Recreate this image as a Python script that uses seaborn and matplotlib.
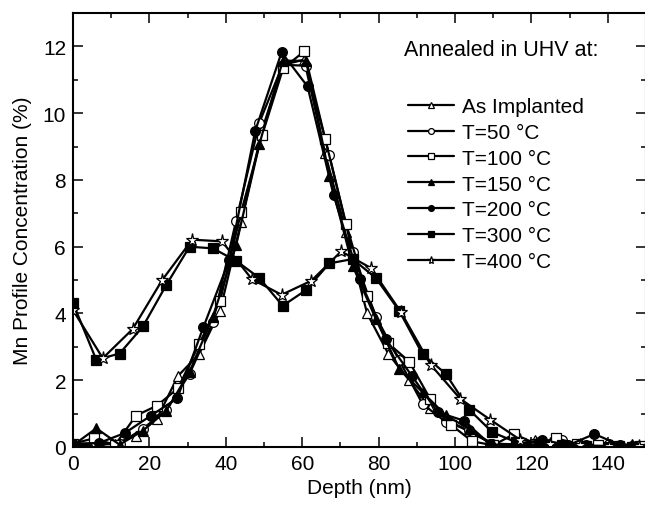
import matplotlib
matplotlib.use("Agg")
import matplotlib.pyplot as plt
import seaborn as sns
from matplotlib.ticker import MultipleLocator

# depth grids (nm) and Mn concentration (%)
x_asimp = [0, 5.5, 11, 16.5, 22, 27.5, 33, 38.5, 44, 49.5, 55, 60.5, 66, 71.5, 77, 82.5,
           88, 93.5, 99, 104.5, 110, 115.5, 121, 126.5, 132, 137.5, 143, 148.5]
y_asimp = [0.02, 0.05, 0.1, 0.34, 0.85, 2.13, 2.78, 4.08, 6.73, 9.5, 11.45, 11.6, 8.8, 6.43,
           4.0, 2.8, 2.0, 1.16, 0.76, 0.4, 0.1, 0.05, 0.2, 0.05, 0.03, 0.02, 0.01, 0.02]

x_t50 = [0, 6.1, 12.2, 18.3, 24.4, 30.5, 36.6, 42.7, 48.8, 54.9, 61.0, 67.1, 73.2, 79.3,
         85.4, 91.5, 97.6, 103.7, 109.8, 115.9, 122.0, 128.1, 134.2, 140.3, 146.4]
y_t50 = [0.05, 0.12, 0.1, 0.55, 1.1, 2.19, 3.73, 6.78, 9.72, 11.45, 11.42, 8.74, 5.83, 3.9,
         2.6, 1.29, 0.75, 0.5, 0.1, 0.08, 0.15, 0.2, 0.05, 0.1, 0.02]

x_t100 = [0, 5.5, 11, 16.5, 22, 27.5, 33, 38.5, 44, 49.5, 55, 60.5, 66, 71.5, 77, 82.5,
          88, 93.5, 99, 104.5, 110, 115.5, 121, 126.5, 132, 137.5, 143, 148.5]
y_t100 = [0.1, 0.26, 0.06, 0.94, 1.24, 1.76, 3.08, 4.38, 7.03, 9.34, 11.34, 11.85, 9.24, 6.68,
          4.53, 3.11, 2.56, 1.44, 0.66, 0.17, 0.05, 0.39, 0.1, 0.26, 0.09, 0.05, 0.03, 0.02]

x_t150 = [0, 6.1, 12.2, 18.3, 24.4, 30.5, 36.6, 42.7, 48.8, 54.9, 61.0, 67.1, 73.2, 79.3,
          85.4, 91.5, 97.6, 103.7, 109.8, 115.9, 122.0, 128.1, 134.2, 140.3, 146.4]
y_t150 = [0.05, 0.56, 0.07, 0.49, 1.08, 2.25, 3.9, 6.05, 9.07, 11.57, 11.57, 8.12, 5.43, 3.83,
          2.34, 1.64, 0.95, 0.54, 0.05, 0.03, 0.08, 0.05, 0.03, 0.02, 0.09]

x_t200 = [0, 6.8, 13.6, 20.4, 27.3, 34.1, 40.9, 47.7, 54.6, 61.4, 68.2, 75.0, 81.9, 88.7,
          95.5, 102.3, 109.2, 116.0, 122.8, 129.6, 136.5, 143.3]
y_t200 = [0.1, 0.12, 0.42, 0.94, 1.46, 3.58, 5.6, 9.47, 11.82, 10.8, 7.55, 5.03, 3.23, 2.13,
          1.04, 0.79, 0.08, 0.05, 0.22, 0.05, 0.39, 0.05]

x_t300 = [0, 6.1, 12.2, 18.3, 24.4, 30.5, 36.6, 42.7, 48.8, 54.9, 61.0, 67.1, 73.2, 79.3,
          85.4, 91.5, 97.6, 103.7, 109.8, 115.9, 122.0, 128.1, 134.2, 140.3, 146.4]
y_t300 = [4.31, 2.61, 2.80, 3.61, 4.85, 6.0, 5.95, 5.58, 5.06, 4.23, 4.70, 5.50, 5.63, 5.06,
          4.08, 2.78, 2.19, 1.12, 0.44, 0.15, 0.05, 0.05, 0.02, 0.0, 0.0]

x_t400 = [0, 7.8, 15.6, 23.4, 31.2, 39.0, 46.8, 54.6, 62.4, 70.2, 78.0, 85.8, 93.6, 101.4,
          109.2, 117.0, 124.8, 132.6, 140.4, 148.2]
y_t400 = [4.1, 2.66, 3.53, 5.01, 6.21, 6.16, 5.03, 4.56, 4.98, 5.86, 5.36, 4.05, 2.47, 1.44,
          0.82, 0.22, 0.09, 0.05, 0.03, 0.02]

labels = ["As Implanted", "T=50 °C", "T=100 °C", "T=150 °C", "T=200 °C", "T=300 °C", "T=400 °C"]

sns.set_style("ticks")
plt.rcParams["font.family"] = ["Liberation Sans", "DejaVu Sans"]
plt.rcParams["text.color"] = "black"
plt.rcParams["axes.labelcolor"] = "black"

fig = plt.figure(figsize=(6.45, 5.06), dpi=100)
ax = fig.add_axes([73 / 645, 58 / 506, 573 / 645, 434 / 506])

series = [
    (x_asimp, y_asimp, "^", "white", 7.5),
    (x_t50, y_t50, "o", "white", 7),
    (x_t100, y_t100, "s", "white", 6.5),
    (x_t150, y_t150, "^", "black", 7.5),
    (x_t200, y_t200, "o", "black", 7),
    (x_t300, y_t300, "s", "black", 6.5),
    (x_t400, y_t400, "*", "white", 9.5),
]

for (xs, ys, mk, fc, ms), lab in zip(series, labels):
    sns.lineplot(x=xs, y=ys, ax=ax, color="black", linewidth=1.6,
                 marker=mk, markersize=ms, markerfacecolor=fc,
                 markeredgecolor="black", markeredgewidth=0.9,
                 errorbar=None, label=lab)

ax.set_xlim(0, 150)
ax.set_ylim(0, 13)
ax.xaxis.set_major_locator(MultipleLocator(20))
ax.xaxis.set_minor_locator(MultipleLocator(10))
ax.yaxis.set_major_locator(MultipleLocator(2))
ax.yaxis.set_minor_locator(MultipleLocator(1))
ax.tick_params(which="both", direction="in", top=True, right=True, width=1.1,
               labelsize=15, colors="black")
ax.tick_params(which="major", length=7, pad=5)
ax.tick_params(which="minor", length=3.5)
for sp in ax.spines.values():
    sp.set_linewidth(1.5)
    sp.set_color("black")

ax.set_xlabel("Depth (nm)", fontsize=15, labelpad=4)
ax.set_ylabel("Mn Profile Concentration (%)", fontsize=15, labelpad=8)

handles, labs = ax.get_legend_handles_labels()
if ax.get_legend() is not None:
    ax.get_legend().remove()
fig.legend(handles, labs, loc="upper left", bbox_to_anchor=(408 / 645, 1 - 98 / 506),
           frameon=False, fontsize=15, handlelength=2.2, handletextpad=0.4,
           labelspacing=0.33, borderpad=0, borderaxespad=0, markerscale=0.6)
fig.text(404 / 645, 1 - 50 / 506, "Annealed in UHV at:", fontsize=15.5, va="center", ha="left")

fig.savefig("out.png", dpi=100)
